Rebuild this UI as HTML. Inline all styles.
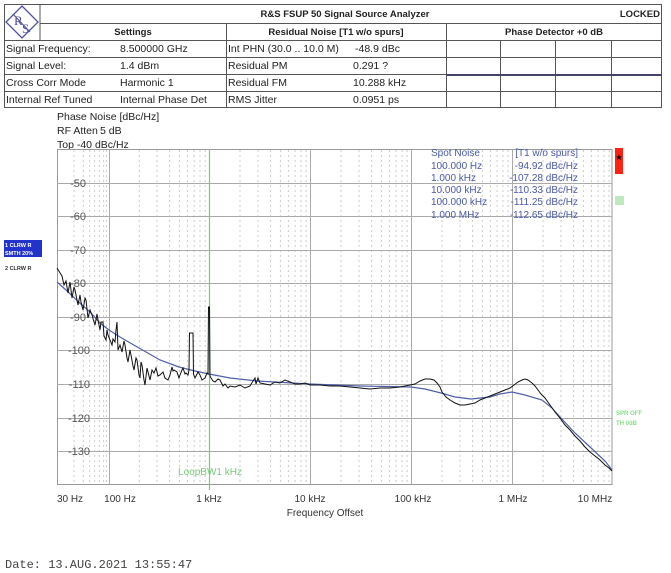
<!DOCTYPE html>
<html><head><meta charset="utf-8"><style>
html,body{margin:0;padding:0;background:#fff;}
svg{display:block;font-family:"Liberation Sans",sans-serif;}
</style></head><body>
<svg width="671" height="573" viewBox="0 0 671 573" xmlns="http://www.w3.org/2000/svg">
<g stroke="#555" stroke-width="1" fill="none">
<rect x="4.5" y="4.5" width="657" height="103"/>
<line x1="40" y1="4" x2="40" y2="40"/>
<line x1="40" y1="23.5" x2="662" y2="23.5"/>
<line x1="4" y1="40.5" x2="662" y2="40.5"/>
<line x1="4" y1="57.5" x2="662" y2="57.5"/>
<line x1="4" y1="74.5" x2="662" y2="74.5"/>
<line x1="4" y1="91.5" x2="662" y2="91.5"/>
<line x1="226.5" y1="23" x2="226.5" y2="108"/>
<line x1="446.5" y1="23" x2="446.5" y2="108"/>
<line x1="500.5" y1="40" x2="500.5" y2="108"/>
<line x1="555.5" y1="40" x2="555.5" y2="108"/>
<line x1="611.5" y1="40" x2="611.5" y2="108"/>
</g>
<line x1="446" y1="75" x2="662" y2="75" stroke="#446" stroke-width="2"/>
<polygon points="22,6 38,22 22,38 6,22" fill="none" stroke="#5050a0" stroke-width="1.3"/>
<text x="14" y="25" font-size="13" fill="#5050a0" font-family="Liberation Serif,serif">R</text>
<text x="22" y="33" font-size="13" fill="#5050a0" font-family="Liberation Serif,serif">S</text>
<line x1="13" y1="14" x2="30" y2="32" stroke="#5050a0" stroke-width="1"/>
<g font-size="9.5" font-weight="bold" fill="#222">
<text x="345" y="17" text-anchor="middle">R&amp;S FSUP 50 Signal Source Analyzer</text>
<text x="660" y="17" text-anchor="end">LOCKED</text>
<text x="133" y="35" text-anchor="middle">Settings</text>
<text x="336" y="35" text-anchor="middle">Residual Noise [T1 w/o spurs]</text>
<text x="554" y="35" text-anchor="middle">Phase Detector +0 dB</text>
</g>
<g font-size="10.5" fill="#222">
<text x="6" y="52">Signal Frequency:</text><text x="120" y="52">8.500000 GHz</text>
<text x="6" y="69">Signal Level:</text><text x="120" y="69">1.4 dBm</text>
<text x="6" y="86">Cross Corr Mode</text><text x="120" y="86">Harmonic 1</text>
<text x="6" y="103">Internal Ref Tuned</text><text x="120" y="103">Internal Phase Det</text>
<text x="228" y="52">Int PHN (30.0 .. 10.0 M)</text><text x="355" y="52">-48.9 dBc</text>
<text x="228" y="69">Residual PM</text><text x="353" y="69">0.291 ?</text>
<text x="228" y="86">Residual FM</text><text x="353" y="86">10.288 kHz</text>
<text x="228" y="103">RMS Jitter</text><text x="353" y="103">0.0951 ps</text>
<text x="57" y="120">Phase Noise [dBc/Hz]</text>
<text x="57" y="134">RF Atten</text><text x="100" y="134">5 dB</text>
<text x="57" y="148">Top -40 dBc/Hz</text>
</g>
<rect x="57.5" y="149.5" width="554.5" height="335" fill="none" stroke="#999"/>
<g stroke="#ccc" stroke-width="1" stroke-dasharray="2,3">
<line x1="74" y1="150" x2="74" y2="484"/><line x1="83.3" y1="150" x2="83.3" y2="484"/><line x1="89.7" y1="150" x2="89.7" y2="484"/><line x1="94.6" y1="150" x2="94.6" y2="484"/><line x1="99.3" y1="150" x2="99.3" y2="484"/><line x1="103.6" y1="150" x2="103.6" y2="484"/><line x1="106.4" y1="150" x2="106.4" y2="484"/>
<line x1="139.3" y1="150" x2="139.3" y2="484"/><line x1="157" y1="150" x2="157" y2="484"/><line x1="169.6" y1="150" x2="169.6" y2="484"/><line x1="179.4" y1="150" x2="179.4" y2="484"/><line x1="187.4" y1="150" x2="187.4" y2="484"/><line x1="194.1" y1="150" x2="194.1" y2="484"/><line x1="200" y1="150" x2="200" y2="484"/><line x1="205.1" y1="150" x2="205.1" y2="484"/>
<line x1="240" y1="150" x2="240" y2="484"/><line x1="258" y1="150" x2="258" y2="484"/><line x1="270.6" y1="150" x2="270.6" y2="484"/><line x1="280.4" y1="150" x2="280.4" y2="484"/><line x1="288.4" y1="150" x2="288.4" y2="484"/><line x1="295.1" y1="150" x2="295.1" y2="484"/><line x1="301" y1="150" x2="301" y2="484"/><line x1="306.1" y1="150" x2="306.1" y2="484"/>
<line x1="341" y1="150" x2="341" y2="484"/><line x1="359" y1="150" x2="359" y2="484"/><line x1="371.6" y1="150" x2="371.6" y2="484"/><line x1="381.4" y1="150" x2="381.4" y2="484"/><line x1="389.4" y1="150" x2="389.4" y2="484"/><line x1="396.1" y1="150" x2="396.1" y2="484"/><line x1="402" y1="150" x2="402" y2="484"/><line x1="407.1" y1="150" x2="407.1" y2="484"/>
<line x1="442" y1="150" x2="442" y2="484"/><line x1="460" y1="150" x2="460" y2="484"/><line x1="472.6" y1="150" x2="472.6" y2="484"/><line x1="482.4" y1="150" x2="482.4" y2="484"/><line x1="490.4" y1="150" x2="490.4" y2="484"/><line x1="497.1" y1="150" x2="497.1" y2="484"/><line x1="503" y1="150" x2="503" y2="484"/><line x1="508.1" y1="150" x2="508.1" y2="484"/>
<line x1="543" y1="150" x2="543" y2="484"/><line x1="561" y1="150" x2="561" y2="484"/><line x1="573.6" y1="150" x2="573.6" y2="484"/><line x1="583.4" y1="150" x2="583.4" y2="484"/><line x1="591.4" y1="150" x2="591.4" y2="484"/><line x1="598.1" y1="150" x2="598.1" y2="484"/><line x1="604" y1="150" x2="604" y2="484"/><line x1="609.1" y1="150" x2="609.1" y2="484"/>
</g>
<g stroke="#aaa" stroke-width="1">
<line x1="109.5" y1="150" x2="109.5" y2="484"/><line x1="310.5" y1="150" x2="310.5" y2="484"/><line x1="411.5" y1="150" x2="411.5" y2="484"/><line x1="512.5" y1="150" x2="512.5" y2="484"/>
<line x1="57" y1="183.5" x2="612" y2="183.5"/><line x1="57" y1="216.5" x2="612" y2="216.5"/><line x1="57" y1="250.5" x2="612" y2="250.5"/><line x1="57" y1="283.5" x2="612" y2="283.5"/><line x1="57" y1="317.5" x2="612" y2="317.5"/><line x1="57" y1="350.5" x2="612" y2="350.5"/><line x1="57" y1="384.5" x2="612" y2="384.5"/><line x1="57" y1="418.5" x2="612" y2="418.5"/><line x1="57" y1="451.5" x2="612" y2="451.5"/>
</g>
<line x1="209.5" y1="149" x2="209.5" y2="490" stroke="#7c7" stroke-width="1.2"/>
<g font-size="11" fill="#555" text-anchor="end">
<text x="86" y="187">-50</text><text x="86" y="220">-60</text><text x="86" y="254">-70</text><text x="86" y="287">-80</text><text x="86" y="321">-90</text><text x="90" y="354">-100</text><text x="90" y="388">-110</text><text x="90" y="422">-120</text><text x="90" y="455">-130</text>
</g>
<polyline fill="none" stroke="#5060a8" stroke-width="1.2" points="57,282 66,290 78.7,302 90,312 100,323 109,330 120,337 139,348 160,360 179,367 195,371 209,374 230,378 257,381 310,384 360,386 411,387 425,389 441,393 455,397 471,399 490,397 500,394 512,392 525,395 542,400 552,408 560,417 575,433 590,447 605,461 612,470"/>
<polyline fill="none" stroke="#111" stroke-width="1" points="57,268 62,276 64,285 66,281 68,293 70,282 72,298 74,287 75,290 78,305 80,295 81,302 83,310 85,298 86,300 88,318 90,310 92,315 94,322 95,325 97,314 98,320 100,330 101,322 103,322 104,336 106,340 107,330 108,335 110,340 112,345 113,339 115,342 116,330 117,322 118,350 120,345 122,352 124,341 125,345 127,358 128,362 130,350 131,355 133,366 134,370 136,358 137,360 139,375 140,378 141,362 142,365 144,380 145,385 147,368 148,372 150,380 151,375 152,370 154,373 156,368 158,376 160,375 163,372 165,378 168,380 170,375 172,367 173,371 174,370 177,372 179,378 180,375 182,370 183,368 185,374 186,373 188,375 189,370 189.5,333 193,333 193.5,374 195,378 198,372 200,375 202,380 205,378 207,373 208,374 208.5,307 209.5,307 210,376 211,378 213,381 215,382 218,379 220,380 223,386 225,384 228,388 230,386 235,387 240,385 245,388 250,386 253,381 255,378 256,384 258,378 260,383 265,384 270,385 275,382 280,383 285,380 290,382 295,384 300,384 305,383 310,385 320,385 330,386 340,386 350,387 360,388 370,389 380,388 390,388 400,387 405,386 410,385 415,384 420,381 425,379 430,379 434,380 437,383 440,387 442,392 446,397 450,400 455,403 460,405 465,405 470,404 475,403 480,400 485,398 490,396 495,394 500,392 505,390 510,388 514,385 518,382 522,380 525,379 528,380 532,383 535,386 538,390 541,394 545,398 550,405 555,412 560,418 565,425 570,430 575,436 580,441 585,447 590,452 595,456 600,460 605,465 609,468 612,471"/>
<g font-size="10" fill="#4a5aa8">
<text x="431" y="156">Spot Noise</text><text x="431" y="169">100.000 Hz</text><text x="431" y="181">1.000 kHz</text><text x="431" y="193">10.000 kHz</text><text x="431" y="205">100.000 kHz</text><text x="431" y="218">1.000 MHz</text>
<g text-anchor="end"><text x="578" y="156">[T1 w/o spurs]</text><text x="578" y="169">-94.92 dBc/Hz</text><text x="578" y="181">-107.28 dBc/Hz</text><text x="578" y="193">-110.33 dBc/Hz</text><text x="578" y="205">-111.25 dBc/Hz</text><text x="578" y="218">-112.65 dBc/Hz</text></g>
</g>
<rect x="615" y="148" width="8" height="26" fill="#f21"/>
<text x="619" y="160" font-size="8" text-anchor="middle" fill="#000">★</text>
<rect x="615" y="196" width="9" height="9" fill="#bfe8bf"/>
<g font-size="6" font-weight="bold" fill="#8d8">
<text x="616" y="415">SPR OFF</text><text x="616" y="425">TH 0dB</text>
</g>
<rect x="4" y="240" width="38" height="17" fill="#2233cc"/>
<g font-size="5.5" font-weight="bold">
<text x="5" y="247" fill="#fff">1 CLRW R</text><text x="5" y="255" fill="#fff">SMTH 20%</text>
<text x="5" y="270" fill="#333">2 CLRW R</text>
</g>
<text x="210" y="475" font-size="10" fill="#7c7" text-anchor="middle">LoopBW1 kHz</text>
<g font-size="10" fill="#333" text-anchor="middle">
<text x="70" y="502">30 Hz</text><text x="120" y="502">100 Hz</text><text x="209" y="502">1 kHz</text><text x="310" y="502">10 kHz</text><text x="413" y="502">100 kHz</text><text x="513" y="502">1 MHz</text><text x="595" y="502">10 MHz</text>
<text x="325" y="516">Frequency Offset</text>
</g>
<text x="5" y="568" font-size="12" fill="#444" font-family="Liberation Mono,monospace">Date: 13.AUG.2021  13:55:47</text>
</svg>
</body></html>
